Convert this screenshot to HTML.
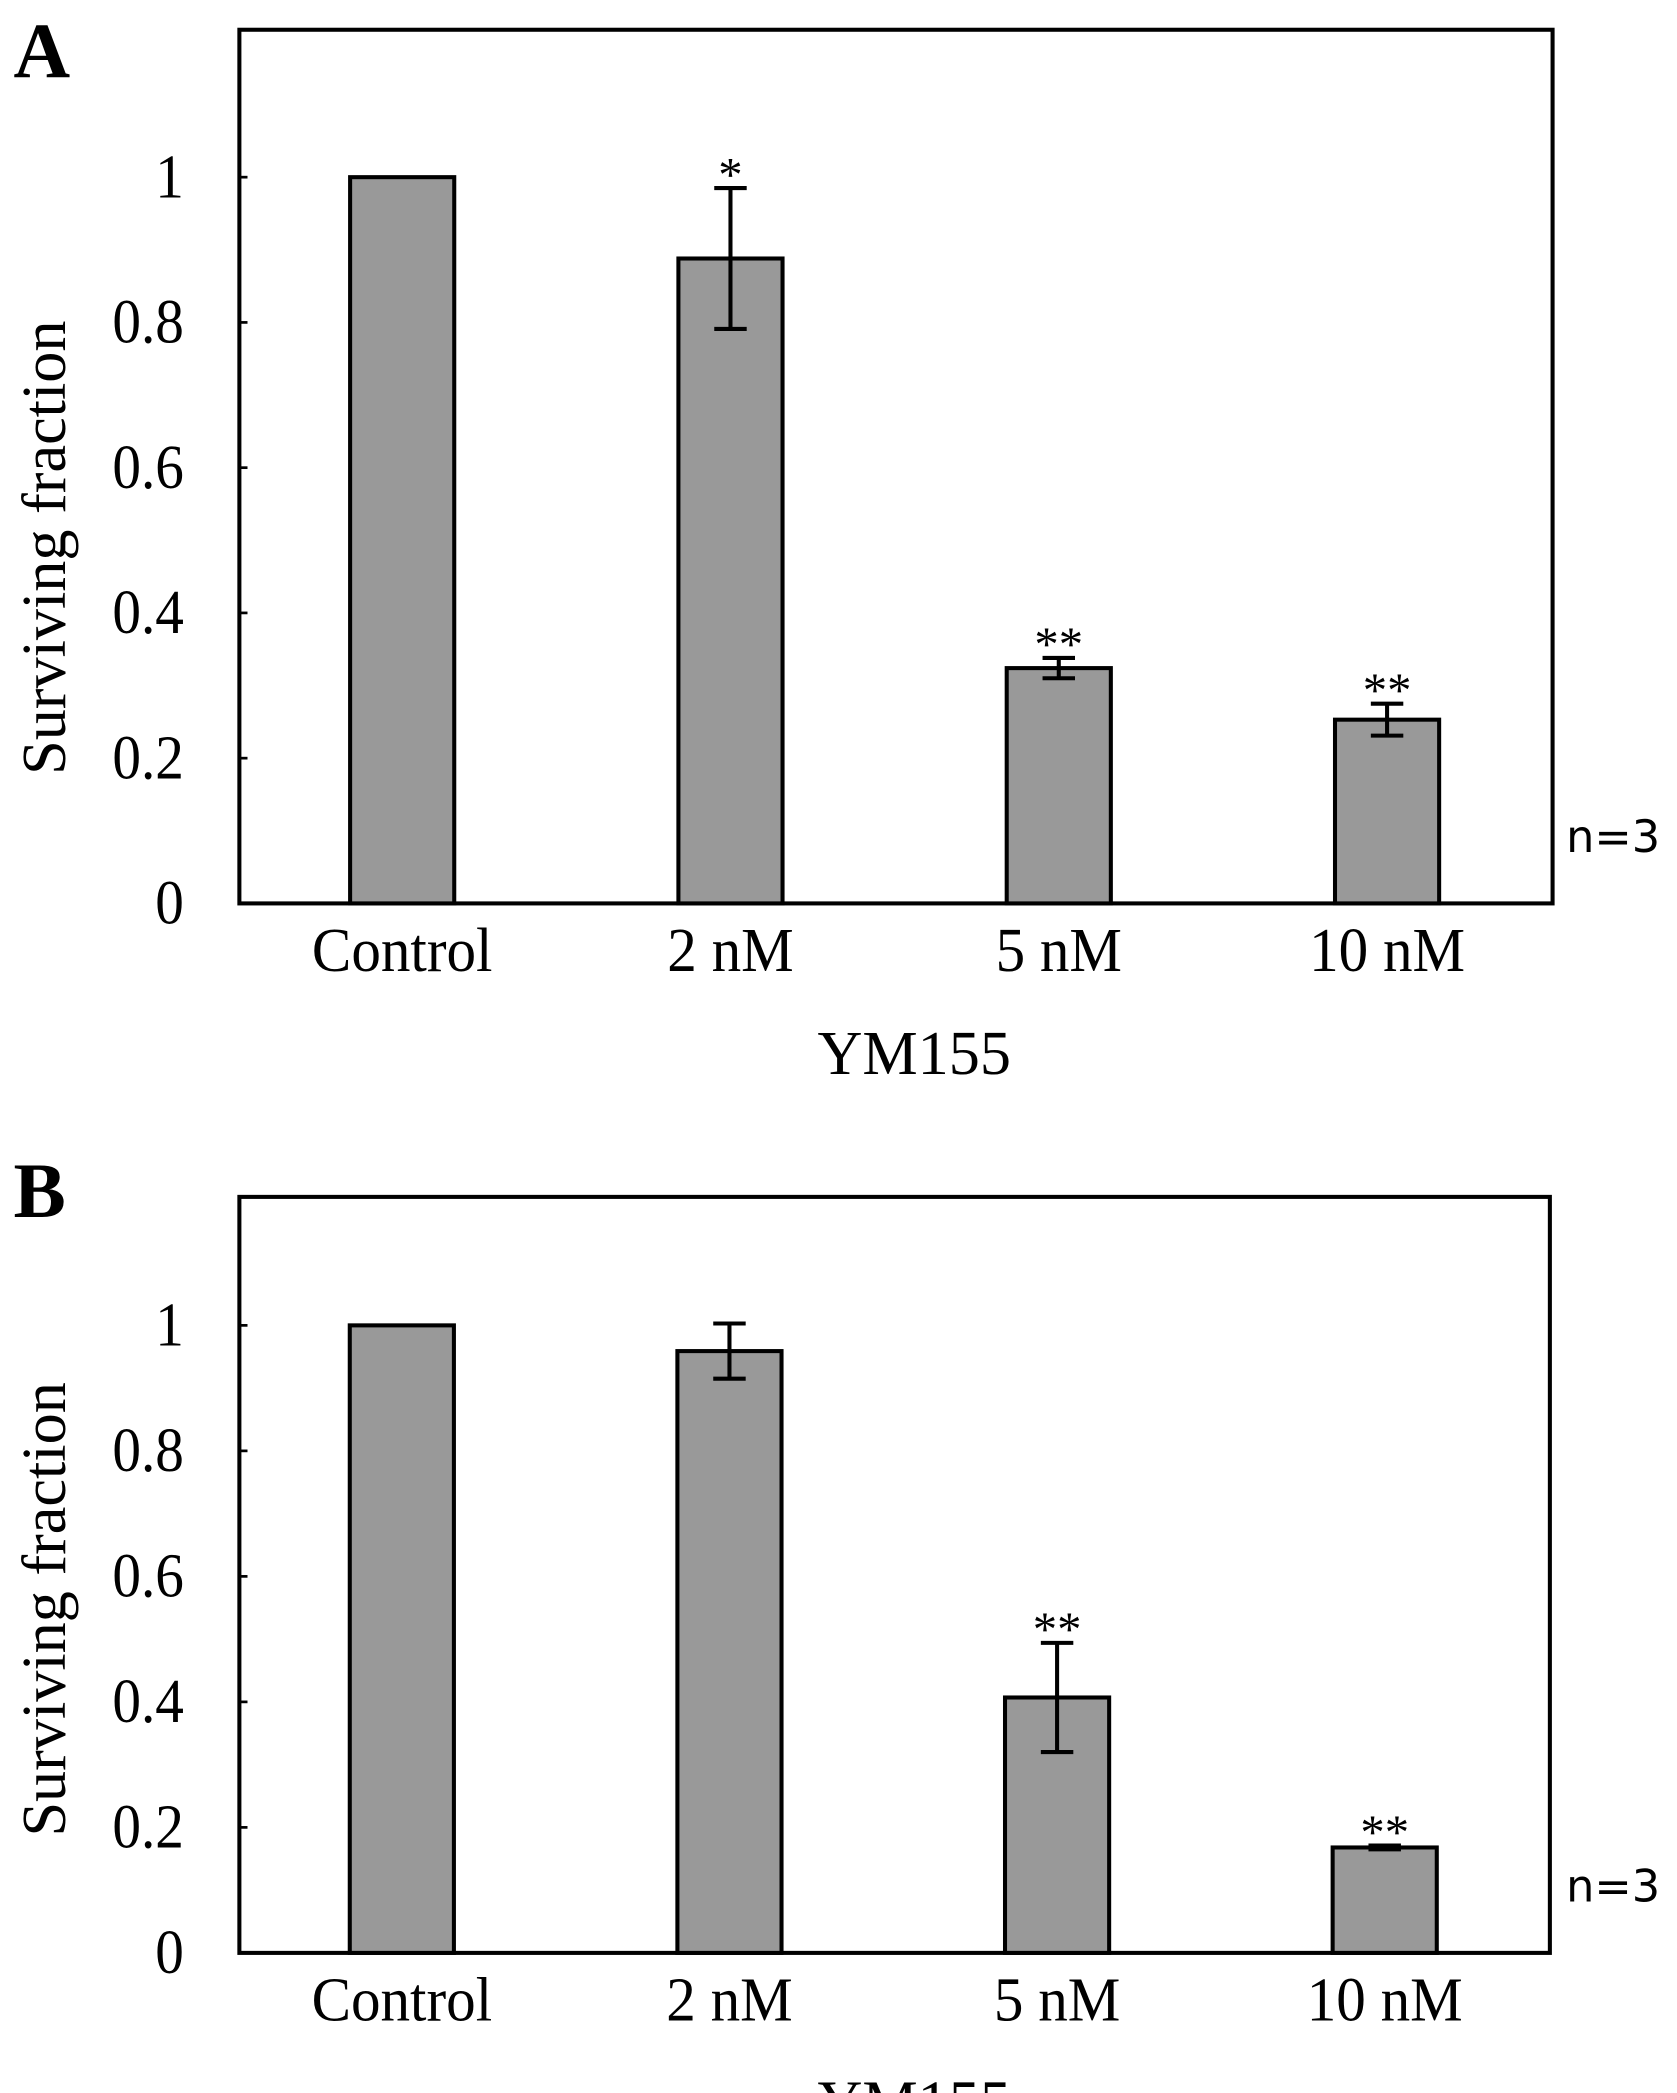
<!DOCTYPE html>
<html><head><meta charset="utf-8"><style>
html,body{margin:0;padding:0;background:#fff;}
svg{display:block;}
text{font-family:"Liberation Serif",serif;fill:#000;}
</style></head><body>
<svg id="fig" width="1677" height="2093" viewBox="0 0 1240 1547.6" xmlns="http://www.w3.org/2000/svg"></svg>
<script>
const categories = ["Control", "2 nM", "5 nM", "10 nM"];
const valuesA = [1, 0.888, 0.324, 0.253];
const errorsA = [0, 0.097, 0.014, 0.022];
const sigA = ["", "*", "**", "**"];
const valuesB = [1, 0.959, 0.407, 0.168];
const errorsB = [0, 0.044, 0.087, 0.003];
const sigB = ["", "", "**", "**"];
const yTicks = [0, 0.2, 0.4, 0.6, 0.8, 1];
const yTickLabels = ["0", "0.2", "0.4", "0.6", "0.8", "1"];

const NS = "http://www.w3.org/2000/svg";
const svg = document.getElementById("fig");
function mk(tag, attrs, parent) {
  const e = document.createElementNS(NS, tag);
  for (const k in attrs) e.setAttribute(k, attrs[k]);
  (parent || svg).appendChild(e);
  return e;
}

function panel(cfg) {
  const g = mk("g", {});
  
  
  const L = 177, R = cfg.right, T = cfg.top, B = cfg.bottom, y1 = cfg.y1;
  const yScale = v => B - v * (B - y1);
  const band = (R - L) / categories.length;
  const xCenter = i => L + band * (i + 0.5) - 1;
  const barW = 77;

  const letter = mk("text", {x: 10, y: cfg.letterY, "font-size": 58, "font-weight": "bold"}, g);
  letter.textContent = cfg.letter;
  
  

  const frame = mk("rect", {x: L, y: T, width: R - L, height: B - T, fill: "none", stroke: "#000", "stroke-width": 3}, g);
  
  

  yTicks.forEach((t, i) => {
    const y = yScale(t);
    const tk = mk("line", {x1: L, x2: L + 6, y1: y, y2: y, stroke: "#000", "stroke-width": 2}, g);
    
    
    const lb = mk("text", {x: 0, y: 0, "font-size": 46, "text-anchor": "end", transform: `translate(136 ${y + 15}) scale(0.92 1)`}, g);
    lb.textContent = yTickLabels[i];
    
    
  });

  const yt = mk("text", {x: 0, y: 0, "font-size": 46, "text-anchor": "middle", transform: `translate(48 ${cfg.titleCY}) rotate(-90)`}, g);
  yt.textContent = "Surviving  fraction";
  
  

  cfg.values.forEach((v, i) => {
    const cx = xCenter(i);
    const bar = mk("rect", {x: cx - barW / 2, y: yScale(v), width: barW, height: B - yScale(v), fill: "#999", stroke: "#000", "stroke-width": 3}, g);
    
    
    const e = cfg.errors[i];
    if (e > 0) {
      const eg = mk("g", {stroke: "#000", "stroke-width": 3}, g);
      
      
      mk("line", {x1: cx, x2: cx, y1: yScale(v + e), y2: yScale(v - e)}, eg);
      mk("line", {x1: cx - 12, x2: cx + 12, y1: yScale(v + e), y2: yScale(v + e)}, eg);
      mk("line", {x1: cx - 12, x2: cx + 12, y1: yScale(v - e), y2: yScale(v - e)}, eg);
    }
    if (cfg.sig[i]) {
      const s = mk("text", {x: cx, y: yScale(v + e) + 2, "font-size": 36, "text-anchor": "middle"}, g);
      s.textContent = cfg.sig[i];
      
      
    }
    const xl = mk("text", {x: 0, y: 0, "font-size": 46, "text-anchor": "middle", transform: `translate(${cx} ${B + 50}) scale(0.95 1)`}, g);
    xl.textContent = categories[i];
    
    
  });

  const xt = mk("text", {x: 676, y: B + 126, "font-size": 46, "text-anchor": "middle"}, g);
  xt.textContent = "YM155";
  
  

  const n = mk("text", {x: 1158, y: B - 38, "font-size": 33, style: 'font-family:"DejaVu Sans","Liberation Sans",sans-serif'}, g);
  n.textContent = "n=3";
  
  
}

panel({letter: "A", letterY: 57, top: 22, bottom: 668, y1: 131, right: 1148, titleCY: 405, values: valuesA, errors: errorsA, sig: sigA});
panel({letter: "B", letterY: 900, top: 885, bottom: 1444, y1: 980, right: 1146, titleCY: 1190, values: valuesB, errors: errorsB, sig: sigB});
</script>
</body></html>
